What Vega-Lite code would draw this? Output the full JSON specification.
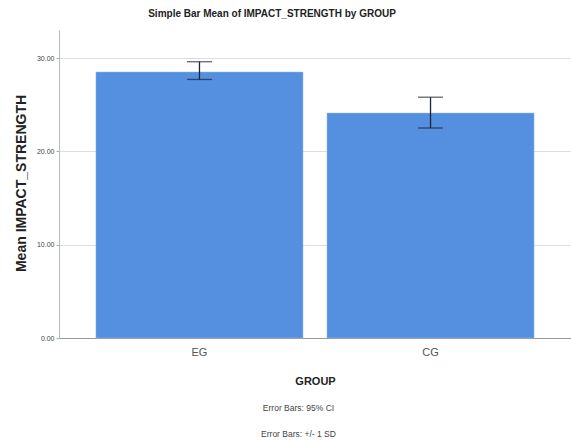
{
  "$schema": "https://vega.github.io/schema/vega-lite/v6.json",
  "autosize": "none",
  "width": 512,
  "height": 308,
  "padding": {"left": 59, "top": 30, "right": 0, "bottom": 105},
  "background": "white",
  "config": {
    "font": "Liberation Sans",
    "view": {"stroke": null}
  },
  "title": {
    "text": "Simple Bar Mean of IMPACT_STRENGTH by GROUP",
    "fontSize": 10,
    "fontWeight": "bold",
    "color": "#222222",
    "anchor": "middle",
    "dx": -43,
    "offset": 11
  },
  "data": {
    "values": [
      {"GROUP": "EG", "mean": 28.5, "lower": 27.7, "upper": 29.6},
      {"GROUP": "CG", "mean": 24.1, "lower": 22.5, "upper": 25.8}
    ]
  },
  "resolve": {"axis": {"x": "independent"}},
  "layer": [
    {
      "mark": {"type": "bar", "color": "#5590E0", "stroke": "#8fb8ee", "strokeWidth": 0.5},
      "encoding": {
        "x": {
          "field": "GROUP",
          "type": "nominal",
          "sort": ["EG", "CG"],
          "scale": {"paddingInner": 0.104, "paddingOuter": 0.16},
          "axis": {
            "orient": "bottom",
            "title": "GROUP",
            "titleFontSize": 11,
            "titleFontWeight": "bold",
            "titleColor": "#222222",
            "titlePadding": 18,
            "labelAngle": 0,
            "labelFontSize": 11,
            "labelColor": "#555555",
            "labelPadding": 8,
            "ticks": false,
            "domainColor": "#999999",
            "grid": false
          }
        },
        "y": {
          "field": "mean",
          "type": "quantitative",
          "scale": {"domain": [0, 33], "nice": false},
          "axis": {
            "title": "Mean IMPACT_STRENGTH",
            "titleFontSize": 14,
            "titleFontWeight": "bold",
            "titleColor": "#222222",
            "titlePadding": 8,
            "titleY": 153,
            "values": [0, 10, 20, 30],
            "format": ".2f",
            "labelFontSize": 7,
            "labelColor": "#444444",
            "tickSize": 3,
            "tickColor": "#aaaaaa",
            "domainColor": "#bbbbbb",
            "gridColor": "#dddddd"
          }
        }
      }
    },
    {
      "mark": {"type": "rule", "color": "#1d2535", "strokeWidth": 1.3},
      "encoding": {
        "x": {
          "field": "GROUP",
          "type": "nominal",
          "sort": ["EG", "CG"],
          "axis": {
            "orient": "bottom",
            "title": ["Error Bars: 95% CI", "Error Bars: +/- 1 SD"],
            "titleFontSize": 8.5,
            "titleFontWeight": "normal",
            "titleColor": "#444444",
            "titleLineHeight": 26,
            "titleX": 239,
            "labels": false,
            "ticks": false,
            "domain": false,
            "offset": 61
          }
        },
        "y": {"field": "lower", "type": "quantitative"},
        "y2": {"field": "upper"}
      }
    },
    {
      "mark": {"type": "tick", "color": "#1d2535", "size": 25, "thickness": 1.3, "orient": "horizontal"},
      "encoding": {
        "x": {"field": "GROUP", "type": "nominal", "sort": ["EG", "CG"], "axis": null},
        "y": {"field": "lower", "type": "quantitative"}
      }
    },
    {
      "mark": {"type": "tick", "color": "#1d2535", "size": 25, "thickness": 1.3, "orient": "horizontal"},
      "encoding": {
        "x": {"field": "GROUP", "type": "nominal", "sort": ["EG", "CG"], "axis": null},
        "y": {"field": "upper", "type": "quantitative"}
      }
    }
  ]
}
